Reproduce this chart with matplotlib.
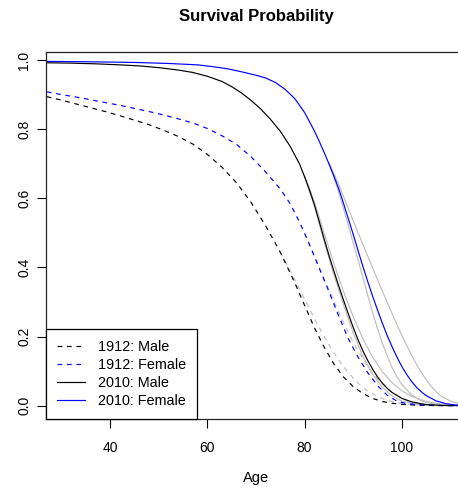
import matplotlib
matplotlib.use("Agg")
import matplotlib.pyplot as plt

plt.rcParams['font.family'] = ['Liberation Sans', 'DejaVu Sans']

# ---- data ----
m1912_age = [27, 30, 33, 36, 39, 42, 45, 48, 51, 54, 57, 60, 63, 66, 69, 72, 75, 78, 80, 82, 84, 86, 88, 90, 92, 94, 96, 98, 100, 103, 107, 114]
m1912_val = [0.894, 0.884, 0.873, 0.862, 0.851, 0.839, 0.826, 0.813, 0.797, 0.779, 0.757, 0.727, 0.690, 0.645, 0.588, 0.520, 0.444, 0.355, 0.290, 0.226, 0.170, 0.121, 0.083, 0.055, 0.035, 0.021, 0.012, 0.007, 0.004, 0.0015, 0.0003, 0.0]

f1912_age = [27, 30, 33, 36, 39, 42, 45, 48, 51, 54, 57, 60, 63, 66, 69, 72, 75, 77, 79, 81, 83, 85, 87, 89, 91, 93, 95, 97, 99, 101, 104, 108, 114]
f1912_val = [0.908, 0.900, 0.893, 0.885, 0.877, 0.869, 0.860, 0.851, 0.841, 0.830, 0.818, 0.802, 0.781, 0.756, 0.720, 0.676, 0.627, 0.585, 0.530, 0.466, 0.398, 0.330, 0.260, 0.193, 0.140, 0.095, 0.058, 0.030, 0.013, 0.006, 0.002, 0.0004, 0.0]

m2010_age = [27, 32, 37, 42, 46, 50, 54, 57, 60, 63, 65, 67, 69, 71, 73, 75, 77, 79, 80, 81, 82, 83, 84, 85, 86, 87, 88, 89, 90, 91, 92, 93, 94, 95, 96, 97, 98, 100, 102, 105, 109, 114]
m2010_val = [0.992, 0.991, 0.989, 0.986, 0.983, 0.978, 0.971, 0.964, 0.953, 0.938, 0.923, 0.905, 0.883, 0.858, 0.828, 0.794, 0.751, 0.698, 0.662, 0.624, 0.582, 0.533, 0.483, 0.435, 0.390, 0.347, 0.305, 0.265, 0.226, 0.190, 0.158, 0.130, 0.105, 0.083, 0.065, 0.050, 0.038, 0.021, 0.011, 0.003, 0.0005, 0.0]

f2010_age = [27, 35, 45, 52, 58, 61, 64, 67, 70, 72, 74, 76, 78, 80, 82, 83, 84, 85, 86, 87, 88, 89, 90, 91, 92, 93, 94, 95, 96, 97, 98, 99, 100, 101, 102, 103, 104, 105, 107, 109, 111, 114]
f2010_val = [0.996, 0.995, 0.993, 0.990, 0.986, 0.981, 0.975, 0.966, 0.956, 0.948, 0.935, 0.915, 0.888, 0.848, 0.795, 0.765, 0.733, 0.700, 0.665, 0.628, 0.585, 0.540, 0.495, 0.448, 0.402, 0.358, 0.316, 0.276, 0.238, 0.202, 0.170, 0.140, 0.113, 0.090, 0.070, 0.053, 0.040, 0.029, 0.014, 0.006, 0.002, 0.0]

# grey companion curves (alternative fits): solid for 2010, dashed for 1912
g2010f_lo_age = [85, 86, 87, 88, 89, 90, 91, 92, 93, 94, 95, 96, 97, 98, 99, 100, 102, 104, 106, 109]
g2010f_lo_val = [0.700, 0.662, 0.618, 0.570, 0.520, 0.470, 0.420, 0.370, 0.318, 0.268, 0.222, 0.180, 0.143, 0.110, 0.083, 0.061, 0.031, 0.014, 0.006, 0.001]
g2010f_hi_age = [85, 86, 87, 88, 89, 90, 91, 92, 93, 94, 95, 96, 97, 98, 99, 100, 101, 102, 103, 104, 105, 106, 107, 108, 110, 112, 114]
g2010f_hi_val = [0.702, 0.672, 0.640, 0.605, 0.570, 0.535, 0.500, 0.466, 0.432, 0.398, 0.364, 0.331, 0.298, 0.266, 0.234, 0.203, 0.174, 0.146, 0.120, 0.096, 0.075, 0.056, 0.041, 0.028, 0.013, 0.005, 0.002]
g2010m_lo_age = [80, 82, 84, 86, 88, 90, 92, 94, 96, 98, 100, 103, 106]
g2010m_lo_val = [0.662, 0.578, 0.475, 0.380, 0.292, 0.210, 0.142, 0.090, 0.053, 0.028, 0.013, 0.004, 0.001]
g2010m_hi_age = [80, 82, 84, 86, 88, 90, 92, 94, 96, 98, 100, 102, 105, 108, 112]
g2010m_hi_val = [0.665, 0.590, 0.500, 0.412, 0.330, 0.257, 0.193, 0.140, 0.098, 0.066, 0.043, 0.027, 0.012, 0.005, 0.001]
g1912f_age = [80, 82, 84, 86, 88, 90, 92, 94, 96, 98, 100, 102, 105, 109]
g1912f_val = [0.500, 0.435, 0.368, 0.302, 0.240, 0.183, 0.135, 0.094, 0.062, 0.038, 0.021, 0.011, 0.004, 0.001]
g1912m_age = [75, 77, 79, 81, 83, 85, 87, 89, 91, 93, 95, 97, 100, 104]
g1912m_val = [0.444, 0.392, 0.336, 0.280, 0.226, 0.176, 0.132, 0.095, 0.065, 0.042, 0.026, 0.015, 0.006, 0.001]

labels = ["1912: Male", "1912: Female", "2010: Male", "2010: Female"]
x_ticks = [40, 60, 80, 100]
y_ticks = [0.0, 0.2, 0.4, 0.6, 0.8, 1.0]

W, H = 458, 491
fig = plt.figure(figsize=(W / 100, H / 100), dpi=100)
left_px, right_px, top_px, bot_px = 45.7, 466.0, 52.3, 419.0
ax = fig.add_axes([left_px / W, 1 - bot_px / H, (right_px - left_px) / W, (bot_px - top_px) / H])

lw = 0.85
dash = (0, (4, 4))
grey = '#bebebe'

for a, v in [(g2010f_lo_age, g2010f_lo_val), (g2010f_hi_age, g2010f_hi_val),
             (g2010m_lo_age, g2010m_lo_val), (g2010m_hi_age, g2010m_hi_val)]:
    ax.plot(a, v, color=grey, lw=lw)
for a, v in [(g1912f_age, g1912f_val), (g1912m_age, g1912m_val)]:
    ax.plot(a, v, color=grey, lw=lw, linestyle=dash)

ax.plot(m1912_age, m1912_val, color='black', lw=lw, linestyle=dash, label=labels[0])
ax.plot(f1912_age, f1912_val, color='blue', lw=lw, linestyle=dash, label=labels[1])
ax.plot(m2010_age, m2010_val, color='black', lw=lw, label=labels[2])
ax.plot(f2010_age, f2010_val, color='blue', lw=lw, label=labels[3])

ax.set_xlim(26.78, 26.78 + (right_px - left_px) / 4.865)
ax.set_ylim(-0.0385, 1.0223)
ax.set_xticks(x_ticks)
ax.set_xticklabels([str(t) for t in x_ticks])
ax.set_yticks(y_ticks)
ax.set_yticklabels([f"{t:.1f}" for t in y_ticks], rotation=90, va='center')
ax.tick_params(direction='out', length=6.5, width=0.8, labelsize=10, pad=4, colors='black')
ax.tick_params(axis='x', pad=9.5)
for s in ax.spines.values():
    s.set_linewidth(0.9)
    s.set_color('#222222')

fig.text(256 / W, 1 - 17 / H, "Survival Probability", ha='center', va='center',
         fontsize=12, fontweight='bold')
fig.text(256 / W, 1 - 478 / H, "Age", ha='center', va='center', fontsize=10.5)

leg = ax.legend(loc='lower left', bbox_to_anchor=(0, 0), borderaxespad=0, fancybox=False,
                framealpha=1, edgecolor='black', fontsize=10.4, handlelength=1.95,
                handletextpad=0.9, labelspacing=0.28, borderpad=0.75)
leg.get_frame().set_linewidth(0.9)

fig.savefig("out.png", dpi=100)
